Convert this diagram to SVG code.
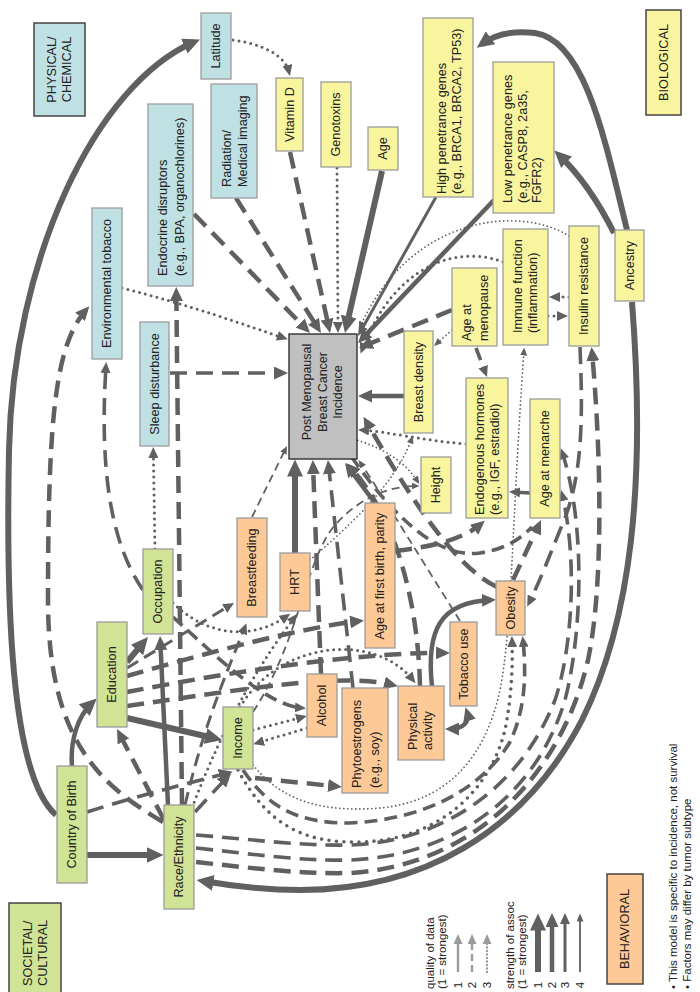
<svg xmlns="http://www.w3.org/2000/svg" width="700" height="992" viewBox="0 0 700 992">
<style>
.n rect{stroke:#9c9c9c;stroke-width:1.3}
.cat rect{stroke:#444;stroke-width:1.5}
.b rect{fill:#bfe1e4}
.y rect{fill:#f8f59e}
.g rect{fill:#d1e395}
.o rect{fill:#fdc996}
text{font-family:"Liberation Sans",Arial,Helvetica,sans-serif;font-size:12.7px;fill:#222}
.sm{font-size:11.5px}
.c path{fill:none;stroke:#606060}
.w6{stroke-width:6}.w5{stroke-width:4.5}.w4{stroke-width:3.6}.w3{stroke-width:3}.w2{stroke-width:1.8}
.dl{stroke-dasharray:17 9}
.dm{stroke-dasharray:13 7}
.ds{stroke-dasharray:8 5}
.dt{stroke-dasharray:0 6;stroke-linecap:round}
.dtb{stroke-dasharray:0 7.5;stroke-linecap:round}
.dts{stroke-dasharray:0 4;stroke-linecap:round}
.lg path{fill:none}
</style>
<defs>
<marker id="aXL" viewBox="0 0 17 16" refX="10.5" refY="8" markerWidth="17" markerHeight="16" markerUnits="userSpaceOnUse" orient="auto-start-reverse"><path d="M0,0 L17,8 L0,16 z" fill="#606060"/></marker>
<marker id="aL" viewBox="0 0 14 13" refX="9" refY="6.5" markerWidth="14" markerHeight="13" markerUnits="userSpaceOnUse" orient="auto-start-reverse"><path d="M0,0 L14,6.5 L0,13 z" fill="#606060"/></marker>
<marker id="aM" viewBox="0 0 11 10" refX="7" refY="5" markerWidth="11" markerHeight="10" markerUnits="userSpaceOnUse" orient="auto-start-reverse"><path d="M0,0 L11,5 L0,10 z" fill="#606060"/></marker>
<marker id="aS" viewBox="0 0 8 7" refX="5.5" refY="3.5" markerWidth="8" markerHeight="7" markerUnits="userSpaceOnUse" orient="auto-start-reverse"><path d="M0,0 L8,3.5 L0,7 z" fill="#606060"/></marker>
<marker id="gM" viewBox="0 0 10 9" refX="6" refY="4.5" markerWidth="10" markerHeight="9" markerUnits="userSpaceOnUse" orient="auto"><path d="M0,0 L10,4.5 L0,9 z" fill="#9b9b9b"/></marker>
</defs>
<rect width="700" height="992" fill="#fff"/>

<g id="connectors" class="c">
<!-- to PM from top -->
<path class="w3 dt" d="M233,40 C262,44 285,55 289,72" marker-end="url(#aM)"/>
<path class="w5 dl" d="M290,152 L329,328" marker-end="url(#aL)"/>
<path class="w3 dt" d="M337,168 L338,329" marker-end="url(#aM)"/>
<path class="w6" d="M382,171 L346.4,326.7" marker-end="url(#aXL)"/>
<path class="w5 dl" d="M236,198 L318.3,328.8" marker-end="url(#aL)"/>
<path class="w5 dl" d="M194,214 L306.5,329.4" marker-end="url(#aL)"/>
<path class="w3 dt" d="M122,288 C190,305 245,325 284,338" marker-end="url(#aM)"/>
<path class="w4 dl" d="M170,373 L283,373" marker-end="url(#aL)"/>
<path class="w3" d="M436,197 L360,332.5" marker-end="url(#aM)"/>
<path class="w5" d="M494,200 L361.5,339.4" marker-end="url(#aL)"/>
<path class="w2 dts" d="M569,236 C520,205 410,215 360,327" marker-end="url(#aS)"/>
<path class="w3 dt" d="M503,262 C460,245 395,262 362,350" marker-end="url(#aM)"/>
<path class="w5 dl" d="M452,310 L363.6,346.1" marker-end="url(#aL)"/>
<path class="w2 dts" d="M452,330 L435.9,344.3" marker-end="url(#aS)"/>
<path class="w4 dm" d="M476,348 L485.6,373.3" marker-end="url(#aM)"/>
<path class="w5" d="M404,396 L363,396" marker-end="url(#aL)"/>
<path class="w3 dt" d="M569,297 L553,297" marker-end="url(#aM)"/>
<path class="w3 dt" d="M548,316 L564,316" marker-end="url(#aM)"/>
<path class="w4 dm" d="M530,493 L513,492" marker-end="url(#aM)"/>
<path class="w3 dt" d="M466,444 C420,440 390,432 362,430" marker-end="url(#aM)"/>
<path class="w5 dl" d="M497,587 C450,565 400,480 366,421" marker-end="url(#aL)"/>
<path class="w5 dl" d="M513,580 L538.9,524.5" marker-end="url(#aL)"/>
<path class="w5" d="M375,503 L348,467" marker-end="url(#aL)"/>
<path class="w5 dl" d="M395,551 C430,547 462,540 481,524" marker-end="url(#aL)"/>
<path class="w6" d="M295,553 L295,466" marker-end="url(#aXL)"/>
<path class="w2 ds" d="M252,517 L285.9,448.2" marker-end="url(#aS)"/>
<path class="w5 dl" d="M321,674 L313,465" marker-end="url(#aL)"/>
<path class="w4 dl" d="M353,688 L328.5,465" marker-end="url(#aL)"/>
<path class="w5 dl" d="M420,686 C418,600 395,515 350,467" marker-end="url(#aL)"/>
<path class="w2 ds" d="M460,621 C425,565 385,500 360,462" marker-end="url(#aS)"/>
<path class="w2 dts" d="M310,560 C350,525 395,485 412,438" marker-end="url(#aS)"/>
<path class="w2 dts" d="M350,438 C385,448 405,462 418,482" marker-end="url(#aS)"/>
<path class="w2 ds" d="M253,712 C300,640 305,560 335,525 C360,497 390,486 417,486" marker-end="url(#aS)"/>
<path class="w4 dm" d="M340,440 C380,500 430,560 480,553 C506,549 520,539 532,527"/>
<!-- left cluster -->
<path class="w6" d="M56,815 C10,775 6,600 9,450 C13,260 95,85 194,42" marker-end="url(#aXL)"/>
<path class="w6" d="M87,855 L157,855" marker-end="url(#aXL)"/>
<path class="w5" d="M72,766 C70,740 78,716 92,703" marker-end="url(#aXL)"/>
<path class="w4 dl" d="M87,812 C140,795 190,783 228,773" marker-end="url(#aL)"/>
<path class="w4 dl" d="M195,812 L227.6,776.7" marker-end="url(#aL)"/>
<path class="w6" d="M127,662 L143.8,642" marker-end="url(#aXL)"/>
<path class="w5" d="M168,805 L160.3,641" marker-end="url(#aL)"/>
<path class="w5 dl" d="M182,805 L176.3,292" marker-end="url(#aL)"/>
<path class="w6" d="M127,718 L215.7,738.5" marker-end="url(#aXL)"/>
<path class="w5 dl" d="M164,820 L119.3,733.5" marker-end="url(#aL)"/>
<path class="w5 dl" d="M163,822 C100,785 48,740 48,600 C48,420 55,345 86,310" marker-end="url(#aL)"/>
<path class="w4 dl" d="M143,590 C108,540 100,460 106,366" marker-end="url(#aM)"/>
<path class="w3 dt" d="M155,549 L153.3,451" marker-end="url(#aM)"/>
<path class="w3 dt" d="M173,603 C200,630 245,645 287,616" marker-end="url(#aM)"/>
<path class="w4 dm" d="M173,617 C215,655 265,705 302,708" marker-end="url(#aM)"/>
<path class="w3 dm" d="M127,668 L230.6,605" marker-end="url(#aM)"/>
<path class="w3 dm" d="M185,805 C205,720 230,665 245,627" marker-end="url(#aM)"/>
<path class="w3 dt" d="M192,808 C225,720 265,655 295,617" marker-end="url(#aM)"/>
<path class="w3 dt" d="M253,730 L303,717" marker-end="url(#aM)"/>
<path class="w3 dt" d="M307,728 L257,743" marker-end="url(#aM)"/>
<path class="w5 dl" d="M255,778 L337,786.5" marker-end="url(#aL)"/>
<path class="w5 dl" d="M127,676 C210,652 300,628 359,621" marker-end="url(#aL)"/>
<path class="w5 dl" d="M127,692 C230,672 360,652 445,653" marker-end="url(#aL)"/>
<path class="w5 dl" d="M127,706 C240,690 340,672 393,685" marker-end="url(#aL)"/>
<path class="w3 dt" d="M240,707 C280,640 375,632 413,680" marker-end="url(#aM)"/>
<path class="w5" d="M450,729 C463,729 470,722 467,712" marker-start="url(#aL)" marker-end="url(#aL)"/>
<path class="w5" d="M432,686 C426,630 440,602 491,600" marker-end="url(#aL)"/>
<!-- biological -->
<path class="w6" d="M627,230 C605,140 585,40 535,33 C510,30 493,36 482,44" marker-end="url(#aXL)"/>
<path class="w6" d="M614,233 C600,205 580,175 559,155" marker-end="url(#aXL)"/>
<path class="w6" d="M632,302 C646,480 632,620 582,720 C522,835 420,890 300,890 C262,890 232,886 203,881" marker-end="url(#aXL)"/>
<!-- right arcs -->
<path class="w5 dl" d="M196,862 C260,869 300,874 350,873 C470,866 560,780 588,660 C604,585 601,450 592,352" marker-end="url(#aL)"/>
<path class="w4 dl" d="M196,848 C260,855 300,861 350,860 C450,856 535,800 565,700 C583,630 585,520 562,452" marker-end="url(#aM)"/>
<path class="w4 dl" d="M196,835 C260,840 300,846 350,845 C440,842 520,790 555,700 C572,650 578,560 562,494" marker-end="url(#aM)"/>
<path class="w4 dl" d="M580,347 C583,420 583,480 560,530 C548,560 538,585 529,603" marker-end="url(#aM)"/>
<path class="w4 dtb" d="M238,770 C270,830 310,843 360,842 C440,840 490,790 505,730 C511,700 513,670 512,640" marker-end="url(#aM)"/>
<path class="w4 dm" d="M243,770 C270,810 300,823 350,823 C420,820 480,792 510,742 C524,712 527,680 523,640" marker-end="url(#aM)"/>
<path class="w2 dts" d="M253,765 C285,805 330,812 380,808 C445,802 485,760 500,690 C512,630 512,520 524,350" marker-end="url(#aS)"/>
</g>

<g id="nodes">
<g id="latitude" class="n b"><rect x="201" y="13" width="30" height="66"/><text transform="translate(216,46) rotate(-90)" text-anchor="middle" y="4.4">Latitude</text></g>
<g id="radiation" class="n b"><rect x="211" y="84" width="46" height="114"/><text transform="translate(227,187) rotate(-90)"><tspan x="0" y="4.4">Radiation/</tspan><tspan x="0" y="20.4">Medical imaging</tspan></text></g>
<g id="endocrine" class="n b"><rect x="148" y="104" width="45" height="182"/><text transform="translate(163,276) rotate(-90)"><tspan x="0" y="4.4">Endocrine disruptors</tspan><tspan x="0" y="21.4">(e.g., BPA, organochlorines)</tspan></text></g>
<g id="envtobacco" class="n b"><rect x="92" y="208" width="30" height="151"/><text transform="translate(107,283.5) rotate(-90)" text-anchor="middle" y="4.4">Environmental tobacco</text></g>
<g id="sleep" class="n b"><rect x="140" y="322" width="29" height="124"/><text transform="translate(154.5,384) rotate(-90)" text-anchor="middle" y="4.4">Sleep disturbance</text></g>
<g id="cat-physical" class="n b cat"><rect x="34" y="23" width="51" height="93"/><text transform="translate(59.5,69.5) rotate(-90)" text-anchor="middle"><tspan x="0" y="-3.1">PHYSICAL/</tspan><tspan x="0" y="11.9">CHEMICAL</tspan></text></g>

<g id="vitd" class="n y"><rect x="276" y="78" width="27" height="73"/><text transform="translate(289.5,114.5) rotate(-90)" text-anchor="middle" y="4.4">Vitamin D</text></g>
<g id="genotoxins" class="n y"><rect x="321" y="82" width="30" height="85"/><text transform="translate(336,124.5) rotate(-90)" text-anchor="middle" y="4.4">Genotoxins</text></g>
<g id="age" class="n y"><rect x="368" y="127" width="30" height="43"/><text transform="translate(383,148.5) rotate(-90)" text-anchor="middle" y="4.4">Age</text></g>
<g id="highpen" class="n y"><rect x="423" y="18" width="50" height="179"/><text transform="translate(442,194) rotate(-90)"><tspan x="0" y="4.4">High penetrance genes</tspan><tspan x="0" y="19.4">(e.g., BRCA1, BRCA2, TP53)</tspan></text></g>
<g id="lowpen" class="n y"><rect x="493" y="62" width="61" height="151"/><text transform="translate(508,203) rotate(-90)"><tspan x="0" y="4.4">Low penetrance genes</tspan><tspan x="0" y="19.4">(e.g., CASP8, 2a35,</tspan><tspan x="0" y="33.4">FGFR2)</tspan></text></g>
<g id="ancestry" class="n y"><rect x="615" y="230" width="29" height="71"/><text transform="translate(629.5,265.5) rotate(-90)" text-anchor="middle" y="4.4">Ancestry</text></g>
<g id="insulin" class="n y"><rect x="569" y="226" width="30" height="120"/><text transform="translate(584,286) rotate(-90)" text-anchor="middle" y="4.4">Insulin resistance</text></g>
<g id="immune" class="n y"><rect x="503" y="229" width="45" height="116"/><text transform="translate(518,333) rotate(-90)"><tspan x="0" y="4.4">Immune function</tspan><tspan x="0" y="19.4">(inflammation)</tspan></text></g>
<g id="menopause" class="n y"><rect x="452" y="268" width="45" height="78"/><text transform="translate(467,341) rotate(-90)"><tspan x="0" y="4.4">Age at</tspan><tspan x="0" y="21.4">menopause</tspan></text></g>
<g id="breastdensity" class="n y"><rect x="404" y="331" width="29" height="102"/><text transform="translate(418.5,382) rotate(-90)" text-anchor="middle" y="4.4">Breast density</text></g>
<g id="endogenous" class="n y"><rect x="466" y="378" width="42" height="140"/><text transform="translate(480,515) rotate(-90)"><tspan x="0" y="4.4">Endogenous hormones</tspan><tspan x="0" y="19.4">(e.g., IGF, estradiol)</tspan></text></g>
<g id="menarche" class="n y"><rect x="530" y="399" width="30" height="119"/><text transform="translate(545,458.5) rotate(-90)" text-anchor="middle" y="4.4">Age at menarche</text></g>
<g id="height" class="n y"><rect x="421" y="457" width="30" height="56"/><text transform="translate(436,485) rotate(-90)" text-anchor="middle" y="4.4">Height</text></g>
<g id="cat-biological" class="n y cat"><rect x="646" y="10" width="35" height="105"/><text transform="translate(663.5,62.5) rotate(-90)" text-anchor="middle" y="4.4">BIOLOGICAL</text></g>

<g id="occupation" class="n g"><rect x="143" y="549" width="30" height="85"/><text transform="translate(158,591.5) rotate(-90)" text-anchor="middle" y="4.4">Occupation</text></g>
<g id="education" class="n g"><rect x="97" y="622" width="30" height="105"/><text transform="translate(112,674.5) rotate(-90)" text-anchor="middle" y="4.4">Education</text></g>
<g id="cob" class="n g"><rect x="57" y="766" width="30" height="117"/><text transform="translate(72,824.5) rotate(-90)" text-anchor="middle" y="4.4">Country of Birth</text></g>
<g id="race" class="n g"><rect x="164" y="805" width="30" height="104"/><text transform="translate(179,857) rotate(-90)" text-anchor="middle" y="4.4">Race/Ethnicity</text></g>
<g id="income" class="n g"><rect x="223" y="707" width="30" height="62"/><text transform="translate(238,738) rotate(-90)" text-anchor="middle" y="4.4">Income</text></g>
<g id="cat-societal" class="n g cat"><rect x="9" y="903" width="52" height="100"/><text transform="translate(28,986) rotate(-90)"><tspan x="0" y="4.4">SOCIETAL/</tspan><tspan x="0" y="19.4">CULTURAL</tspan></text></g>

<g id="breastfeeding" class="n o"><rect x="237" y="518" width="30" height="99"/><text transform="translate(252,567.5) rotate(-90)" text-anchor="middle" y="4.4">Breastfeeding</text></g>
<g id="hrt" class="n o"><rect x="280" y="553" width="30" height="58"/><text transform="translate(295,582) rotate(-90)" text-anchor="middle" y="4.4">HRT</text></g>
<g id="afb" class="n o"><rect x="365" y="503" width="30" height="145"/><text transform="translate(380,576) rotate(-90)" text-anchor="middle" y="4.4">Age at first birth, parity</text></g>
<g id="alcohol" class="n o"><rect x="307" y="674" width="30" height="63"/><text transform="translate(322,705.5) rotate(-90)" text-anchor="middle" y="4.4">Alcohol</text></g>
<g id="phyto" class="n o"><rect x="342" y="688" width="46" height="105"/><text transform="translate(357,788) rotate(-90)"><tspan x="0" y="4.4">Phytoestrogens</tspan><tspan x="0" y="22.4">(e.g., soy)</tspan></text></g>
<g id="physact" class="n o"><rect x="398" y="686" width="46" height="74"/><text transform="translate(413,750) rotate(-90)"><tspan x="0" y="4.4">Physical</tspan><tspan x="0" y="19.4">activity</tspan></text></g>
<g id="tobacco" class="n o"><rect x="450" y="622" width="27" height="84"/><text transform="translate(463.5,664) rotate(-90)" text-anchor="middle" y="4.4">Tobacco use</text></g>
<g id="obesity" class="n o"><rect x="496" y="581" width="29" height="54"/><text transform="translate(510.5,608) rotate(-90)" text-anchor="middle" y="4.4">Obesity</text></g>
<g id="cat-behavioral" class="n o cat"><rect x="607" y="874" width="36" height="110"/><text transform="translate(625,929) rotate(-90)" text-anchor="middle" y="4.4">BEHAVIORAL</text></g>

<g id="pm"><rect x="289" y="334" width="68" height="125" fill="#c0c0c0" stroke="#222" stroke-width="1.3"/><text transform="translate(0,392) rotate(-90)" text-anchor="middle" style="font-size:12.5px"><tspan x="0" y="311.4">Post Menopausal</tspan><tspan x="0" y="327.4">Breast Cancer</tspan><tspan x="0" y="342.4">Incidence</tspan></text></g>
</g>

<g id="legend" class="lg">
<text class="sm" transform="translate(430,989) rotate(-90)"><tspan x="0" y="4">quality of data</tspan><tspan x="0" y="16">(1 = strongest)</tspan></text>
<path d="M458,972 L458,938" stroke="#9b9b9b" stroke-width="2.4" marker-end="url(#gM)"/>
<path d="M472,972 L472,938" stroke="#9b9b9b" stroke-width="2.4" stroke-dasharray="7 4" marker-end="url(#gM)"/>
<path d="M487,972 L487,938" stroke="#9b9b9b" stroke-width="2.4" stroke-dasharray="0 3.5" stroke-linecap="round" marker-end="url(#gM)"/>
<text class="sm" transform="translate(458,985) rotate(-90)" text-anchor="middle" y="4">1</text>
<text class="sm" transform="translate(472,985) rotate(-90)" text-anchor="middle" y="4">2</text>
<text class="sm" transform="translate(487,985) rotate(-90)" text-anchor="middle" y="4">3</text>
<text class="sm" transform="translate(510,989) rotate(-90)"><tspan x="0" y="4">strength of assoc</tspan><tspan x="0" y="16">(1 = strongest)</tspan></text>
<path d="M538,972 L538,920" stroke="#606060" stroke-width="6" marker-end="url(#aXL)"/>
<path d="M552,972 L552,918" stroke="#606060" stroke-width="4.5" marker-end="url(#aL)"/>
<path d="M565,972 L565,917" stroke="#606060" stroke-width="3" marker-end="url(#aM)"/>
<path d="M580,972 L580,916" stroke="#606060" stroke-width="1.8" marker-end="url(#aS)"/>
<text class="sm" transform="translate(538,985) rotate(-90)" text-anchor="middle" y="4">1</text>
<text class="sm" transform="translate(552,985) rotate(-90)" text-anchor="middle" y="4">2</text>
<text class="sm" transform="translate(565,985) rotate(-90)" text-anchor="middle" y="4">3</text>
<text class="sm" transform="translate(580,985) rotate(-90)" text-anchor="middle" y="4">4</text>
</g>

<g id="notes">
<text class="sm" transform="translate(673,989) rotate(-90)"><tspan x="0" y="4">• This model is specific to incidence, not survival</tspan><tspan x="0" y="18">• Factors may differ by tumor subtype</tspan></text>
</g>
</svg>
